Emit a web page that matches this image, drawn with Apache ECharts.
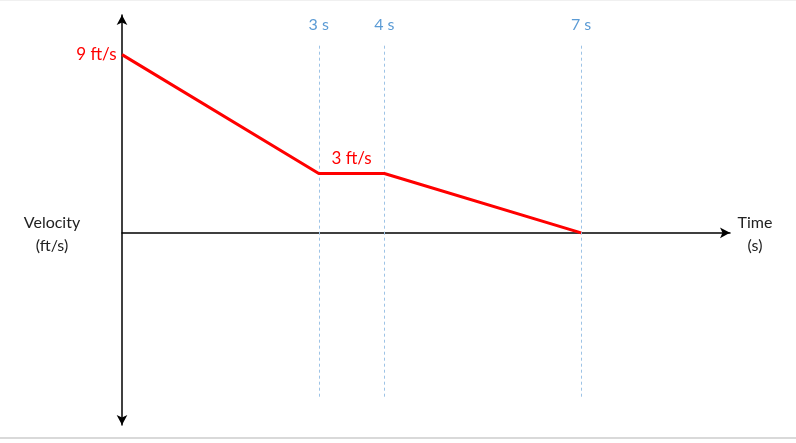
<!DOCTYPE html>
<html>
<head>
<meta charset="utf-8">
<script src="https://cdn.jsdelivr.net/npm/echarts@6/dist/echarts.min.js"></script>
<style>
html,body{margin:0;padding:0;background:#fff;}
#chart{width:796px;height:443px;}
</style>
</head>
<body>
<div id="chart"></div>
<script>
// Data
var times = [0, 3, 4, 7];
var velocities = [9, 3, 3, 0];
var markerTimes = [3, 4, 7];
var markerLabels = ['3 s', '4 s', '7 s'];
var startLabel = '9 ft/s';
var flatLabel = '3 ft/s';
var yAxisTitle = 'Velocity\n(ft/s)';
var xAxisTitle = 'Time\n(s)';

var FONT = 'Lato, "Open Sans", sans-serif';
var chart = echarts.init(document.getElementById('chart'), null, {renderer: 'canvas'});

var lineData = times.map(function (t, i) { return [t, velocities[i]]; });

var markLines = markerTimes.map(function (t, i) {
  return [
    {coord: [t, 9.45], label: {show: true, formatter: markerLabels[i]}},
    {coord: [t, -8.35]}
  ];
});

var option = {
  animation: false,
  grid: {left: 122, right: 66, top: 15, bottom: 18, containLabel: false},
  xAxis: {
    type: 'value', min: 0, max: 9.27,
    axisLine: {onZero: true, lineStyle: {color: '#000', width: 1.5}, symbol: ['none', 'arrow'], symbolSize: [8, 10]},
    axisTick: {show: false}, axisLabel: {show: false}, splitLine: {show: false}
  },
  yAxis: {
    type: 'value', min: -9.7, max: 11,
    axisLine: {onZero: false, lineStyle: {color: '#000', width: 1.5}, symbol: ['arrow', 'arrow'], symbolSize: [8, 10]},
    axisTick: {show: false}, axisLabel: {show: false}, splitLine: {show: false}
  },
  series: [
    {
      type: 'line',
      data: lineData,
      symbol: 'none',
      lineStyle: {color: '#ff0000', width: 3},
      z: 5,
      markLine: {
        silent: true,
        symbol: ['none', 'none'],
        lineStyle: {color: '#9dc3e6', width: 1, type: [3, 3]},
        label: {show: true, position: 'start', distance: 13, color: '#5b9bd5', fontSize: 16, fontFamily: FONT},
        data: markLines,
        z: 1
      },
      markPoint: {
        symbol: 'circle',
        symbolSize: 1,
        itemStyle: {color: 'rgba(0,0,0,0)'},
        label: {show: true, color: '#ff0000', fontSize: 17, fontFamily: FONT},
        data: [
          {coord: [0, 9], label: {show: true, formatter: startLabel, position: 'left', distance: 5}},
          {coord: [3.5, 3], label: {show: true, formatter: flatLabel, position: 'top', distance: 6}}
        ]
      }
    }
  ],
  graphic: [
    {type: 'text', x: 52, y: 211, style: {text: yAxisTitle, fill: '#222', font: '16px ' + FONT, lineHeight: 23, align: 'center'}},
    {type: 'text', x: 755, y: 211, style: {text: xAxisTitle, fill: '#222', font: '16px ' + FONT, lineHeight: 23, align: 'center'}},
    {type: 'rect', left: 0, top: 437, shape: {width: 796, height: 2}, style: {fill: '#d9d9d9'}},
    {type: 'rect', left: 0, top: 0, shape: {width: 796, height: 1}, style: {fill: '#f0f0f0'}}
  ]
};
chart.setOption(option);
</script>
</body>
</html>
